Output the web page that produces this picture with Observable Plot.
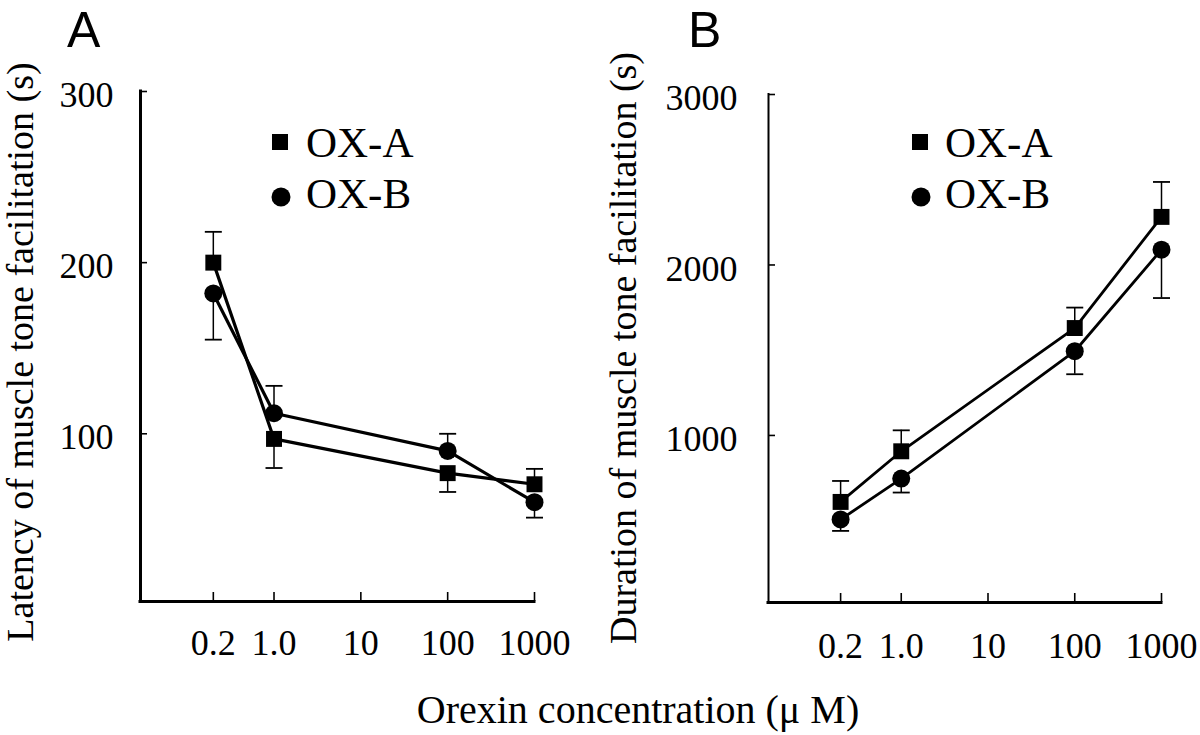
<!DOCTYPE html>
<html>
<head>
<meta charset="utf-8">
<script src="https://cdn.jsdelivr.net/npm/d3@7"></script>
<script src="https://cdn.jsdelivr.net/npm/@observablehq/plot@0.6"></script>
<style>
html, body { margin: 0; padding: 0; background: #fff; }
#wrap { position: relative; width: 1200px; height: 735px; overflow: hidden; background: #fff; }
#wrap > .panel { position: absolute; top: 0; }
#overlay { position: absolute; left: 0; top: 0; pointer-events: none; }
</style>
</head>
<body>
<div id="wrap"></div>
<script>
// ---------- data ----------
const concentrations = [0.2, 1, 100, 1000];           // µM
const xTicks = [0.2, 1, 10, 100, 1000];
const xTickLabels = ["0.2", "1.0", "10", "100", "1000"];
const series = ["OX-A", "OX-B"];

// Panel A: latency of muscle tone facilitation (s)
const latencyOXA = [200, 97, 77, 70.5];
const latencyOXA_se = [18, 17, 11, 9];
const latencyOXA_dir = [1, -1, -1, 1];     // error bar drawn up (+1) or down (-1)
const latencyOXB = [182, 112, 90, 60];
const latencyOXB_se = [27, 16, 10, 9];
const latencyOXB_dir = [-1, 1, 1, -1];
const latencyTicks = [100, 200, 300];
const latencyDomain = [2, 300];

// Panel B: duration of muscle tone facilitation (s)
const durationOXA = [610, 907, 1630, 2282];
const durationOXA_se = [123, 123, 120, 205];
const durationOXA_dir = [1, 1, 1, 1];
const durationOXB = [507, 747, 1494, 2090];
const durationOXB_se = [67, 82, 135, 284];
const durationOXB_dir = [-1, -1, -1, -1];
const durationTicks = [1000, 2000, 3000];
const durationDomain = [20, 3000];

const panelLetters = ["A", "B"];
const yTitles = ["Latency of muscle tone facilitation (s)", "Duration of muscle tone facilitation (s)"];
const xTitle = "Orexin concentration (\u03bc M)";

// ---------- helpers ----------
function buildRows(valsA, seA, dirA, valsB, seB, dirB) {
  const rows = [];
  concentrations.forEach((c, i) => {
    rows.push({conc: c, series: series[0], value: valsA[i], end: valsA[i] + dirA[i] * seA[i]});
    rows.push({conc: c, series: series[1], value: valsB[i], end: valsB[i] + dirB[i] * seB[i]});
  });
  return rows;
}

const capSymbol = {
  draw(ctx, size) {
    const w = Math.sqrt(size / Math.PI);
    ctx.moveTo(-w, 0);
    ctx.lineTo(w, 0);
  }
};

const SERIF = "'Liberation Serif', 'Times New Roman', Times, serif";

function panel({rows, yDomain, yTicks, xDomain, ml, mr, mt, mb, padX, padY, axisWX, axisWY, lineW}) {
  const W = 600, H = 735;
  const innerW = W - ml - mr, innerH = H - mt - mb;
  return Plot.plot({
    width: W, height: H,
    marginLeft: ml, marginRight: mr, marginTop: mt, marginBottom: mb,
    style: {fontFamily: SERIF, fontSize: "36px", color: "black", background: "white", overflow: "visible"},
    x: {type: "log", domain: xDomain},
    y: {domain: yDomain},
    symbol: {domain: series, range: ["square", "circle"]},
    marks: [
      Plot.axisX({ticks: xTicks, tickFormat: d => xTickLabels[xTicks.indexOf(d)], tickSize: 0, tickPadding: padX, label: null}),
      Plot.axisY({ticks: yTicks, tickFormat: d => String(d), tickSize: 0, tickPadding: padY, dy: 4, label: null}),
      Plot.tickX(xTicks, {x: d => d, insetTop: innerH - 9, stroke: "black", strokeWidth: 1.6}),
      Plot.tickY(yTicks, {y: d => d, insetRight: innerW - 7, stroke: "black", strokeWidth: 1.6}),
      Plot.ruleX([xDomain[0]], {stroke: "black", strokeWidth: axisWY, strokeLinecap: "square"}),
      Plot.ruleY([yDomain[0]], {stroke: "black", strokeWidth: axisWX, strokeLinecap: "square"}),
      Plot.ruleX(rows, {x: "conc", y1: "value", y2: "end", stroke: "black", strokeWidth: 1.5}),
      Plot.dot(rows, {x: "conc", y: "end", symbol: capSymbol, r: 8.5, stroke: "black", strokeWidth: 1.8, fill: "none"}),
      Plot.line(rows, {x: "conc", y: "value", z: "series", stroke: "black", strokeWidth: lineW}),
      Plot.dot(rows, {x: "conc", y: "value", symbol: "series", r: 9, fill: "black", stroke: "none"})
    ]
  });
}

const wrap = document.getElementById("wrap");

const plotA = panel({
  rows: buildRows(latencyOXA, latencyOXA_se, latencyOXA_dir, latencyOXB, latencyOXB_se, latencyOXB_dir),
  yDomain: latencyDomain, yTicks: latencyTicks, xDomain: [0.029, 1000],
  ml: 140, mr: 66, mt: 91, mb: 134, padX: 28, padY: 27, axisWX: 3, axisWY: 3, lineW: 3.2
});
const plotB = panel({
  rows: buildRows(durationOXA, durationOXA_se, durationOXA_dir, durationOXB, durationOXB_se, durationOXB_dir),
  yDomain: durationDomain, yTicks: durationTicks, xDomain: [0.0295, 1000],
  ml: 168, mr: 39, mt: 94, mb: 133, padX: 30, padY: 31, axisWX: 3, axisWY: 2, lineW: 2.8
});

[plotA, plotB].forEach((p, i) => {
  const d = document.createElement("div");
  d.className = "panel";
  d.style.left = (i * 600) + "px";
  d.appendChild(p);
  wrap.appendChild(d);
});

// ---------- overlay: panel letters, axis titles, legends ----------
const ov = d3.select(wrap).append("svg")
  .attr("id", "overlay").attr("width", 1200).attr("height", 735);

const letterPos = [{x: 67, y: 47}, {x: 688, y: 47}];
panelLetters.forEach((t, i) => {
  ov.append("text").attr("x", letterPos[i].x).attr("y", letterPos[i].y)
    .attr("font-family", "'Liberation Sans', Arial, sans-serif").attr("font-size", 50)
    .attr("fill", "black").text(t);
});

const yTitlePos = [{x: 33, y: 352}, {x: 636, y: 348}];
yTitles.forEach((t, i) => {
  ov.append("text")
    .attr("transform", `translate(${yTitlePos[i].x},${yTitlePos[i].y}) rotate(-90)`)
    .attr("text-anchor", "middle")
    .attr("font-family", SERIF).attr("font-size", 38).attr("fill", "black").text(t);
});

ov.append("text").attr("x", 638).attr("y", 723).attr("text-anchor", "middle")
  .attr("font-family", SERIF).attr("font-size", 40).attr("fill", "black").text(xTitle);

const legendPos = [{x: 280, tx: 306}, {x: 920, tx: 945}];
legendPos.forEach(p => {
  ov.append("rect").attr("x", p.x - 8).attr("y", 142 - 8).attr("width", 16).attr("height", 16).attr("fill", "black");
  ov.append("circle").attr("cx", p.x + 1).attr("cy", 197).attr("r", 9.5).attr("fill", "black");
  ov.append("text").attr("x", p.tx).attr("y", 157).attr("font-family", SERIF).attr("font-size", 43).attr("fill", "black").text(series[0]);
  ov.append("text").attr("x", p.tx).attr("y", 208).attr("font-family", SERIF).attr("font-size", 43).attr("fill", "black").text(series[1]);
});
</script>
</body>
</html>
